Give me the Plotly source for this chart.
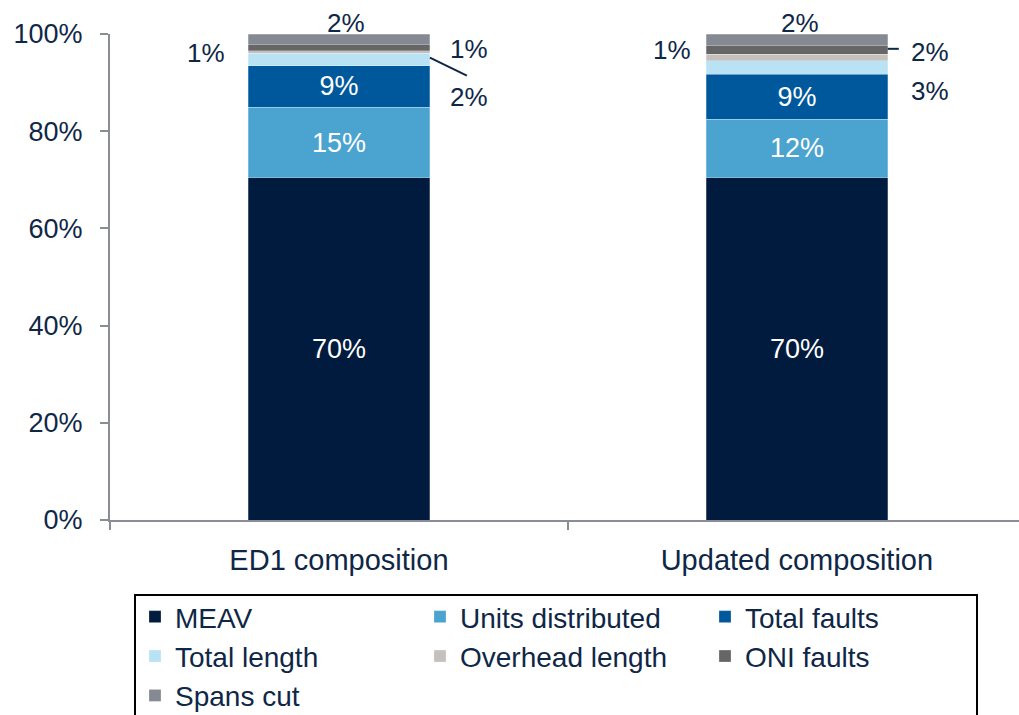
import plotly.graph_objects as go

# Composition of the cost driver weightings (percent of total)
categories = ["ED1 composition", "Updated composition"]
series_names = ["MEAV", "Units distributed", "Total faults", "Total length",
                "Overhead length", "ONI faults", "Spans cut"]
meav = [70.4, 70.4]
units_distributed = [14.5, 12.1]
total_faults = [8.6, 9.2]
total_length = [2.5, 2.8]
overhead_length = [0.6, 1.3]
oni_faults = [1.2, 1.9]
spans_cut = [2.2, 2.3]
y_ticks = [0, 20, 40, 60, 80, 100]
y_tick_labels = ["0%", "20%", "40%", "60%", "80%", "100%"]

series_values = [meav, units_distributed, total_faults, total_length,
                 overhead_length, oni_faults, spans_cut]
colors = ["#001b3d", "#4ba3cf", "#00589c", "#b9e2f4",
          "#c5c0bc", "#666666", "#858991"]
inside_labels = [True, True, True, False, False, False, False]

TEXT = "#0f2747"
FONT = "Liberation Sans, Arial, sans-serif"
BAR_W = 0.397

fig = go.Figure()
for name, vals, col, inside in zip(series_names, series_values, colors, inside_labels):
    fig.add_trace(go.Bar(
        x=categories, y=vals, name=name, width=BAR_W,
        marker=dict(color=col, line=dict(color="rgba(255,255,255,0.5)", width=0.5)),
        texttemplate="%{y:.0f}%" if inside else None,
        textposition="inside" if inside else "none",
        insidetextanchor="middle",
        textfont=dict(color="white", size=27, family=FONT),
        hoverinfo="skip",
    ))

# cumulative segment bounds for placing the outside labels
def seg_mid(series_idx, cat_idx):
    lo = sum(series_values[k][cat_idx] for k in range(series_idx))
    return lo + series_values[series_idx][cat_idx] / 2

def seg_top(series_idx, cat_idx):
    return sum(series_values[k][cat_idx] for k in range(series_idx + 1))

def pct(v):
    return f"{v:.0f}%"

anns = []
def label(cat_idx, series_idx, y, dx, dy, xanchor="center"):
    anns.append(dict(
        x=categories[cat_idx], y=y, xref="x", yref="y",
        text=pct(series_values[series_idx][cat_idx]),
        showarrow=False, xshift=dx, yshift=dy, xanchor=xanchor, yanchor="middle",
        font=dict(size=26, color=TEXT, family=FONT),
    ))

iL, iO, iN, iS = 3, 4, 5, 6
# ED1 composition
label(0, iS, seg_top(iS, 0), 7, 11)
label(0, iN, seg_mid(iN, 0), -133, -5)
label(0, iO, seg_mid(iO, 0), 130, 3)
label(0, iL, seg_mid(iL, 0), 130, -37)
# Updated composition
label(1, iS, seg_top(iS, 1), 3, 11)
label(1, iO, seg_mid(iO, 1), -125, 8)
label(1, iN, seg_mid(iN, 1), 133, -2)
label(1, iL, seg_mid(iL, 1), 133, -23)

scale = 486 / 100  # px per percentage point
half = BAR_W / 2
unit = 909 / 1.985  # px per category step
shapes = [
    # leader line to the ED1 total length label
    dict(type="line", xref="x", yref="y",
         x0=0 + half, y0=seg_mid(iL, 0) + 0.4,
         x1=0 + half + 37 / unit, y1=seg_mid(iL, 0) + 0.4 - 18 / scale,
         line=dict(color=TEXT, width=2)),
    # short dash to the updated ONI faults label
    dict(type="line", xref="x", yref="y",
         x0=1 + half, y0=seg_mid(iN, 1) + 0.2,
         x1=1 + half + 11 / unit, y1=seg_mid(iN, 1) + 0.2,
         line=dict(color=TEXT, width=2)),
    # frame around the legend
    dict(type="rect", xref="paper", yref="paper",
         x0=0.0275, x1=0.9538, y0=-0.1543, y1=-0.5,
         line=dict(color="black", width=2), fillcolor="rgba(0,0,0,0)"),
]

fig.update_layout(
    barmode="stack",
    width=1019, height=715,
    margin=dict(l=110, r=0, t=34, b=195, autoexpand=False),
    plot_bgcolor="white", paper_bgcolor="white",
    font=dict(family=FONT, color=TEXT),
    annotations=anns,
    shapes=shapes,
    showlegend=True,
    legend=dict(
        orientation="h", x=0.0275, y=-0.148, xanchor="left", yanchor="top",
        xref="paper", yref="paper",
        borderwidth=0, bgcolor="rgba(0,0,0,0)",
        font=dict(size=28, color=TEXT, family=FONT),
        entrywidth=240, entrywidthmode="pixels",
        traceorder="normal",
    ),
    xaxis=dict(
        type="category", range=[-0.5, 1.485],
        showline=True, linecolor="#8a8d93", linewidth=2,
        ticks="outside", ticklen=8, tickwidth=2, tickcolor="#8a8d93",
        tickson="boundaries", showgrid=False, zeroline=False,
        tickfont=dict(size=29, color=TEXT, family=FONT),
        ticklabelstandoff=13,
    ),
    yaxis=dict(
        range=[0, 100], tickmode="array", tickvals=y_ticks, ticktext=y_tick_labels,
        showline=True, linecolor="#8a8d93", linewidth=2,
        ticks="outside", ticklen=8, tickwidth=2, tickcolor="#8a8d93",
        showgrid=False, zeroline=False,
        tickfont=dict(size=27, color=TEXT, family=FONT),
        ticklabelstandoff=12,
    ),
)

fig.write_html("out.html")
